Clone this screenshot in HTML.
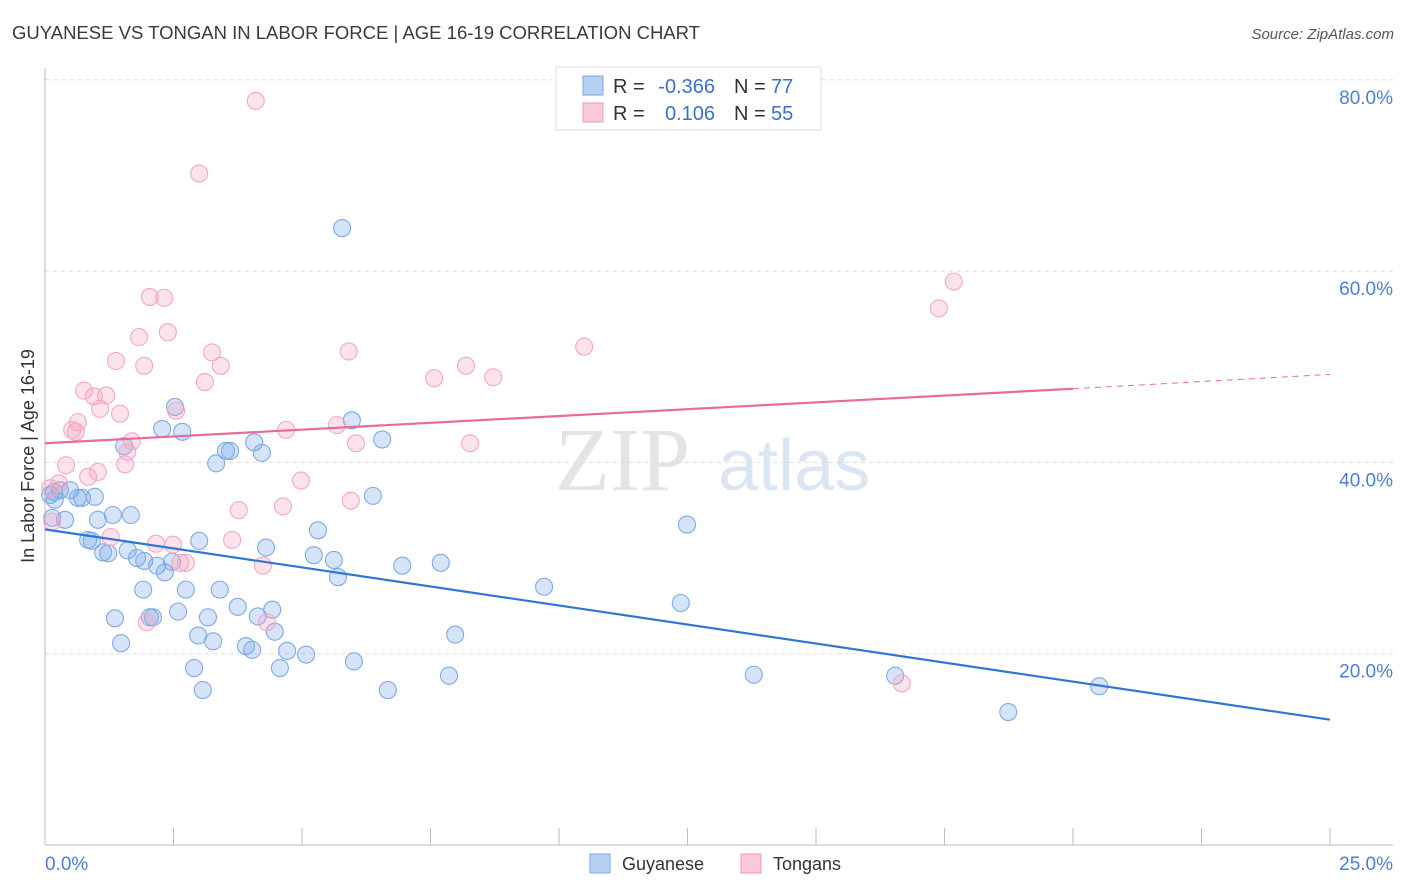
<!DOCTYPE html>
<html><head><meta charset="utf-8"><style>
body{margin:0;background:#fff;font-family:"Liberation Sans",sans-serif;}
svg{display:block}
</style></head><body>
<svg id="chart" width="1406" height="892" viewBox="0 0 1406 892" xmlns="http://www.w3.org/2000/svg">
<text x="12" y="39" font-size="18" fill="#3a3a3a" textLength="688" lengthAdjust="spacingAndGlyphs">GUYANESE VS TONGAN IN LABOR FORCE | AGE 16-19 CORRELATION CHART</text>
<text x="1394" y="39" font-size="15" font-style="italic" fill="#555" text-anchor="end">Source: ZipAtlas.com</text>
<text x="555" y="490" font-size="90" font-family="Liberation Serif,serif" fill="#e4e4e4">ZIP</text>
<text x="718" y="490" font-size="72" fill="#dbe6f5">atlas</text>
<g id="grid"></g>
<g id="axes"></g>
<g id="marks"></g>
<g id="lines"></g>
<text transform="translate(34,456) rotate(-90)" font-size="18" fill="#333" text-anchor="middle">In Labor Force | Age 16-19</text>
<g>
<rect x="556" y="67" width="265" height="63" fill="#fff" stroke="#ddd"/>
<rect x="583" y="76" width="20" height="19" fill="#b7d1f5" stroke="#7aa6e8"/>
<rect x="583" y="103" width="20" height="19" fill="#fbc8d8" stroke="#f09ab5"/>
<text x="613" y="93" font-size="20" fill="#333">R =</text>
<text x="715" y="93" font-size="20" fill="#3a70cc" text-anchor="end">-0.366</text>
<text x="734" y="93" font-size="20" fill="#333">N =</text>
<text x="771" y="93" font-size="20" fill="#3a70cc">77</text>
<text x="613" y="120" font-size="20" fill="#333">R =</text>
<text x="715" y="120" font-size="20" fill="#3a70cc" text-anchor="end">0.106</text>
<text x="734" y="120" font-size="20" fill="#333">N =</text>
<text x="771" y="120" font-size="20" fill="#3a70cc">55</text>
</g>
<g>
<rect x="590" y="854" width="20" height="19" fill="#b7d1f5" stroke="#7aa6e8"/>
<text x="622" y="870" font-size="18" fill="#333">Guyanese</text>
<rect x="741" y="854" width="20" height="19" fill="#fbc8d8" stroke="#f09ab5"/>
<text x="773" y="870" font-size="18" fill="#333">Tongans</text>
</g>
</svg>
<script>
const yTicks=[20,40,60,80];
const yTickLabels=["20.0%","40.0%","60.0%","80.0%"];
const xTickLabels=["0.0%","25.0%"];
const blueX=[.10,.19,.29,.14,.39,.49,.64,.72,.97,1.03,.84,.91,1.13,1.23,1.32,1.67,1.54,1.61,1.79,1.91,1.93,2.04,2.10,2.18,2.33,2.28,2.53,2.67,2.47,2.59,2.74,2.90,2.98,3.00,3.07,3.17,3.27,3.33,3.40,3.52,3.60,3.75,3.91,4.03,4.07,4.14,4.22,4.30,4.42,4.47,4.57,4.71,5.08,5.23,5.31,5.62,5.70,5.78,5.97,6.01,6.38,6.56,6.67,6.95,7.70,7.86,7.98,9.71,12.37,12.49,13.79,16.54,18.74,20.51,1.48,1.36,.18];
const blueY=[36.6,36.1,37.1,34.2,34.0,37.1,36.3,36.3,36.4,34.0,31.9,31.8,30.6,30.5,34.5,34.5,41.7,30.8,30.0,26.7,29.7,23.8,23.8,29.2,28.5,43.5,45.8,43.2,29.6,24.4,26.7,18.5,21.9,31.8,16.2,23.8,21.3,39.9,26.7,41.2,41.2,24.9,20.8,20.4,42.1,23.9,41.0,31.1,24.6,22.3,18.5,20.3,19.9,30.3,32.9,29.8,28.0,64.5,44.4,19.2,36.5,42.4,16.2,29.2,29.5,17.7,22.0,27.0,25.3,33.5,17.8,17.7,13.9,16.6,21.1,23.7,36.9];
const pinkX=[4.10,3.00,17.68,17.39,10.49,2.04,2.32,1.83,2.39,1.38,1.93,3.25,3.42,3.11,5.91,7.57,8.19,8.72,.76,.95,1.19,1.07,1.46,.64,.53,.60,2.55,1.69,1.60,1.56,.41,1.03,.84,.27,.10,8.27,6.05,5.68,4.69,4.98,4.63,3.77,5.95,3.64,1.28,2.16,2.49,2.63,2.74,4.24,1.98,4.32,16.67,.14];
const pinkY=[77.8,70.2,58.9,56.1,52.1,57.3,57.2,53.1,53.6,50.6,50.1,51.5,50.1,48.4,51.6,48.8,50.1,48.9,47.5,46.9,47.0,45.6,45.1,44.2,43.4,43.2,45.4,42.2,41.1,39.8,39.7,39.0,38.5,37.8,37.3,42.0,42.0,43.9,43.4,38.1,35.4,35.0,36.0,31.9,32.2,31.5,31.4,29.5,29.5,29.2,23.3,23.3,16.9,33.8];
const blueTrend=[33.0,13.1];
const pinkTrend=[42.0,47.7,49.2];
const NS="http://www.w3.org/2000/svg";
const X=v=>45+v/25*1285;
const Y=v=>845-v/20*191.3;
function mk(tag,attrs,parent){const e=document.createElementNS(NS,tag);for(const k in attrs)e.setAttribute(k,attrs[k]);document.getElementById(parent).appendChild(e);return e;}
yTicks.forEach((t,i)=>{
 const g=mk('line',{x1:45,x2:1393,y1:Y(t),y2:Y(t),stroke:'#ddd','stroke-dasharray':'4,4'},'grid');
 
 
 const tx=mk('text',{x:1393,y:Y(t)+24,'font-size':19,fill:'#4a7fd4','text-anchor':'end'},'axes');
 tx.textContent=yTickLabels[i];
 
 
});
const ya=mk('line',{x1:45,x2:45,y1:68,y2:845,stroke:'#bbb'},'axes');


const xa=mk('line',{x1:45,x2:1393,y1:845,y2:845,stroke:'#bbb'},'axes');


for(let i=0;i<=10;i++){
 const t=mk('line',{x1:X(i*2.5),x2:X(i*2.5),y1:828,y2:845,stroke:'#bbb'},'axes');
 
 
}
[[0,'start',45],[25,'end',1393]].forEach((d,i)=>{
 const tx=mk('text',{x:d[2],y:870,'font-size':19,fill:'#4a7fd4','text-anchor':d[1]},'axes');
 tx.textContent=xTickLabels[i];
 
 
});
blueX.forEach((v,i)=>{
 const c=mk('circle',{cx:X(v),cy:Y(blueY[i]),r:8.5,fill:'rgba(120,165,235,0.3)',stroke:'#7eaae6','stroke-width':1.1},'marks');
 
 
});
pinkX.forEach((v,i)=>{
 const c=mk('circle',{cx:X(v),cy:Y(pinkY[i]),r:8.5,fill:'rgba(245,160,190,0.3)',stroke:'#f2a9c0','stroke-width':1.1},'marks');
 
 
});
const bl=mk('line',{x1:X(0),y1:Y(blueTrend[0]),x2:X(25),y2:Y(blueTrend[1]),stroke:'#2f76d6','stroke-width':2.2},'lines');


const pl=mk('line',{x1:X(0),y1:Y(pinkTrend[0]),x2:X(20),y2:Y(pinkTrend[1]),stroke:'#e86b98','stroke-width':2.2},'lines');


const pd=mk('line',{x1:X(20),y1:Y(pinkTrend[1]),x2:X(25),y2:Y(pinkTrend[2]),stroke:'#e86b98','stroke-width':1,'stroke-dasharray':'6,5'},'lines');


</script>
</body></html>
